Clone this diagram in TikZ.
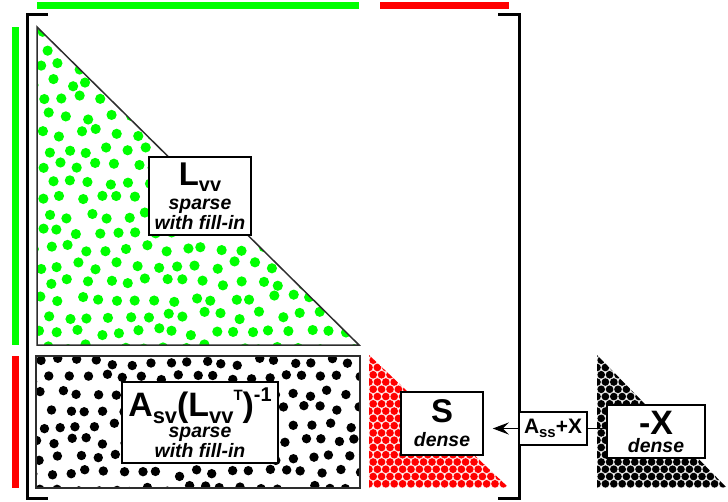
\documentclass[tikz,border=0pt]{standalone}
\usepackage{fontspec}
\setmainfont{Liberation Sans}
\usetikzlibrary{arrows.meta}
\definecolor{vgreen}{RGB}{0,255,0}
\definecolor{vred}{RGB}{255,0,0}
\definecolor{edgegray}{RGB}{45,45,45}
\newcommand\fs[1]{\fontsize{#1}{#1}\selectfont}

\begin{document}
\begin{tikzpicture}[x=1bp,y=-1bp,
  box/.style={draw=black, line width=1.5bp, fill=white, align=center,
    inner sep=0pt, font=\fontsize{19.5}{20}\selectfont\bfseries},
  outline/.style={draw=edgegray, line width=1.5bp},
  bracket/.style={draw=black, line width=3bp},
  link/.style={draw=black, line width=1.5bp}]
\useasboundingbox (0,0) rectangle (728,502);

% block bars along the top and left
\fill[vgreen] (37,2) rectangle (359,9);
\fill[vred] (380,2) rectangle (509,9);
\fill[vgreen] (12,27) rectangle (19,345);
\fill[vred] (12,356) rectangle (19,488);

% matrix brackets
\draw[bracket] (48,15) -- (27.5,15) -- (27.5,498) -- (48,498);
\draw[bracket] (498,15) -- (519,15) -- (519,498) -- (498,498);

% sparse lower triangle with scattered green entries
\pgfmathsetseed{11}
\begin{scope}
  \clip (37,27) -- (37,345) -- (359,345) -- cycle;
  \foreach \j in {0,...,19} {
    \foreach \i in {-1,...,17} {
      \pgfmathsetmacro\px{41+\i*19.2+mod(\j,2)*9.6+rand*4}
      \pgfmathsetmacro\py{33+\j*16.6+rand*4}
      \fill[vgreen] (\px,\py) circle[radius=5.1];
    }
  }
\end{scope}
\draw[outline] (37,27) -- (37,345) -- (359,345) -- cycle;

% sparse rectangular block with black entries
\begin{scope}
  \clip (36,356) rectangle (360,488);
  \foreach \j in {0,...,8} {
    \foreach \i in {-1,...,19} {
      \pgfmathsetmacro\px{42+\i*18+mod(\j,2)*9+rand*3.8}
      \pgfmathsetmacro\py{362+\j*15.8+rand*3.8}
      \fill[black] (\px,\py) circle[radius=4.7];
    }
  }
\end{scope}
\draw[outline] (36,356) rectangle (360,488);

% dense triangles, packed circles
\begin{scope}
  \clip (369,355) -- (369,488) -- (509,488) -- cycle;
  \fill[white] (369,355) rectangle (509,488);
  \foreach \j in {0,...,19} {
    \foreach \i in {-1,...,17} {
      \pgfmathsetmacro\px{369+\i*8.4+mod(\j,2)*4.2}
      \pgfmathsetmacro\py{488-4.2-\j*7.27}
      \filldraw[fill=vred, draw=white, line width=0.35bp] (\px,\py) circle[radius=4.2];
    }
  }
\end{scope}
\begin{scope}
  \clip (597,355) -- (597,488) -- (727,488) -- cycle;
  \foreach \j in {0,...,19} {
    \foreach \i in {-1,...,16} {
      \pgfmathsetmacro\px{597+\i*8.4+mod(\j,2)*4.2}
      \pgfmathsetmacro\py{488-4.2-\j*7.27}
      \filldraw[fill=black, draw=white, line width=0.35bp] (\px,\py) circle[radius=4.2];
    }
  }
\end{scope}

% labels
\node[box, minimum width=102bp, minimum height=78bp] (Lvv) at (200,196)
  {{\fs{33}L}\raisebox{-6bp}{\fs{20}vv}\\[4bp]
   {\itshape sparse}\\{\itshape with fill-in}};
\node[box, minimum width=156bp, minimum height=81bp] (Asv) at (200,422.5)
  {{\fs{34}A}\raisebox{-7bp}{\fs{22}sv}{\fs{34}(L}\raisebox{-7bp}{\fs{22}vv}\raisebox{16bp}{\fs{15}T}{\fs{34})}\raisebox{15bp}{\fs{20}-1}\\[1bp]
   {\itshape sparse}\\{\itshape with fill-in}};
\node[box, minimum width=82bp, minimum height=63bp] (S) at (442,423.5)
  {{\fs{33}S}\\[4bp]{\itshape dense}};
\node[box, minimum width=98bp, minimum height=53bp] (X) at (656,431.5)
  {{\fs{34}-X}\\[-2bp]{\itshape dense}};
\node[box, minimum width=68bp, minimum height=33bp, font=\fontsize{21}{21}\selectfont\bfseries] (asx) at (553,428.5)
  {A\raisebox{-4bp}{\fs{15}ss}+X};

% update of the Schur complement
\draw[link] (X.west |- asx.east) -- (asx.east);
\draw[link, -{Stealth[length=16bp,width=12bp,inset=6bp]}, shorten >=9bp]
  (asx.west) -- (asx.west -| S.east);
\end{tikzpicture}
\end{document}
